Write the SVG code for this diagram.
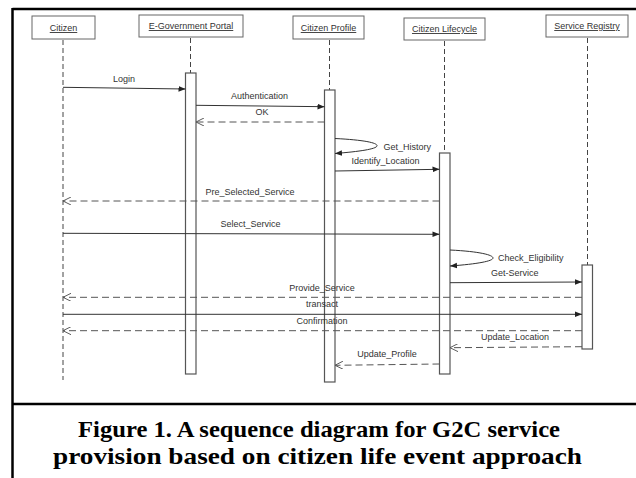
<svg xmlns="http://www.w3.org/2000/svg" width="636" height="478" viewBox="0 0 636 478">
<defs>
<style>
.frame{stroke:#000;stroke-width:2.5;fill:none}
.pbox{fill:#fff;stroke:#666;stroke-width:1}
.plabel{font-family:"Liberation Sans",Arial,sans-serif;font-size:9px;fill:#333;text-anchor:middle;text-decoration:underline}
.life{stroke:#444;stroke-width:1;stroke-dasharray:5,3;fill:none}
.act{fill:#fff;stroke:#555;stroke-width:1.2}
.msg{stroke:#333;stroke-width:1;fill:none;marker-end:url(#filled)}
.ret{stroke:#555;stroke-width:1;fill:none;stroke-dasharray:7,4;marker-end:url(#open)}
.lbl{font-family:"Liberation Sans",Arial,sans-serif;font-size:9px;fill:#333;text-anchor:middle}
.lbls{font-family:"Liberation Sans",Arial,sans-serif;font-size:9px;fill:#333;text-anchor:start}
.cap{font-family:"Liberation Serif","Times New Roman",serif;font-size:24px;font-weight:bold;fill:#000;text-anchor:start}
</style>
<marker id="filled" viewBox="0 0 10 10" refX="10" refY="5" markerWidth="7" markerHeight="7" orient="auto" markerUnits="userSpaceOnUse">
<path d="M0,1 L10,5 L0,9 z" fill="#222"/>
</marker>
<marker id="open" viewBox="0 0 10 10" refX="10" refY="5" markerWidth="8" markerHeight="8" orient="auto" markerUnits="userSpaceOnUse">
<path d="M0,0 L10,5 L0,10" fill="none" stroke="#555" stroke-width="1.2"/>
</marker>
</defs>
<rect width="636" height="478" fill="#fff"/>
<g id="frame">
<line class="frame" x1="12.5" y1="9" x2="636" y2="9"/>
<line class="frame" x1="12.5" y1="8" x2="12.5" y2="478"/>
<line class="frame" x1="12.5" y1="404" x2="636" y2="404"/>
</g>
<g id="citizen">
<line class="life" x1="63" y1="40" x2="63" y2="380"/>
<rect class="pbox" x="32" y="16" width="63" height="23"/>
<text class="plabel" x="63.5" y="31">Citizen</text>
</g>
<g id="portal">
<line class="life" x1="190.5" y1="38" x2="190.5" y2="73"/>
<rect class="pbox" x="139" y="15" width="104" height="22"/>
<text class="plabel" x="191" y="29">E-Government Portal</text>
<rect class="act" x="185.5" y="73" width="10.5" height="301"/>
</g>
<g id="profile">
<line class="life" x1="329.5" y1="40" x2="329.5" y2="90"/>
<rect class="pbox" x="293" y="16" width="71" height="23"/>
<text class="plabel" x="328.5" y="31">Citizen Profile</text>
<rect class="act" x="324.5" y="90" width="10.5" height="292"/>
</g>
<g id="lifecycle">
<line class="life" x1="444.5" y1="41" x2="444.5" y2="153"/>
<rect class="pbox" x="404" y="18" width="81" height="22"/>
<text class="plabel" x="444.5" y="32">Citizen Lifecycle</text>
<rect class="act" x="439.5" y="153" width="10.5" height="221"/>
</g>
<g id="registry">
<line class="life" x1="587.5" y1="38" x2="587.5" y2="265"/>
<rect class="pbox" x="546" y="15" width="82" height="22"/>
<text class="plabel" x="587" y="29">Service Registry</text>
<rect class="act" x="582" y="265" width="10.5" height="84"/>
</g>
<g id="connectors">
<line class="msg" x1="63" y1="87.3" x2="185.5" y2="89"/>
<text class="lbl" x="124" y="82">Login</text>
<line class="msg" x1="196" y1="105.3" x2="324.5" y2="106.7"/>
<text class="lbl" x="259.5" y="99">Authentication</text>
<line class="ret" x1="324.5" y1="122" x2="196" y2="122"/>
<text class="lbl" x="262" y="115">OK</text>
<path class="msg" d="M335,138.5 C365,140 378,143 377,146 C376,149 360,151.5 335,153.5"/>
<text class="lbls" x="383.5" y="150">Get_History</text>
<line class="msg" x1="335" y1="171" x2="439.5" y2="169.3"/>
<text class="lbls" x="351.5" y="164">Identify_Location</text>
<line class="ret" x1="439.5" y1="201" x2="63" y2="201"/>
<text class="lbl" x="250" y="195">Pre_Selected_Service</text>
<line class="msg" x1="63" y1="233.3" x2="439.5" y2="234.3"/>
<text class="lbl" x="250.5" y="227">Select_Service</text>
<path class="msg" d="M450,250 C480,251.5 493,255 493,258 C493,261 478,264 450,266"/>
<text class="lbls" x="498" y="261">Check_Eligibility</text>
<line class="msg" x1="450" y1="282.7" x2="582" y2="282"/>
<text class="lbls" x="491" y="275.5">Get-Service</text>
<line class="ret" x1="582" y1="297.3" x2="63" y2="297.3"/>
<text class="lbl" x="322" y="291">Provide_Service</text>
<line class="msg" x1="63" y1="314.3" x2="582" y2="314.3"/>
<text class="lbl" x="322" y="307">transact</text>
<line class="ret" x1="582" y1="330.7" x2="63" y2="330.7"/>
<text class="lbl" x="322" y="324">Confirmation</text>
<line class="ret" x1="582" y1="346.7" x2="450" y2="347.7"/>
<text class="lbl" x="515" y="340">Update_Location</text>
<line class="ret" x1="439.5" y1="364" x2="335" y2="365.3"/>
<text class="lbl" x="387" y="357">Update_Profile</text>
</g>
<g id="caption">
<text class="cap" x="78" y="437" textLength="482" lengthAdjust="spacingAndGlyphs">Figure 1. A sequence diagram for G2C service</text>
<text class="cap" x="53" y="464" textLength="529" lengthAdjust="spacingAndGlyphs">provision based on citizen life event approach</text>
</g>
</svg>
